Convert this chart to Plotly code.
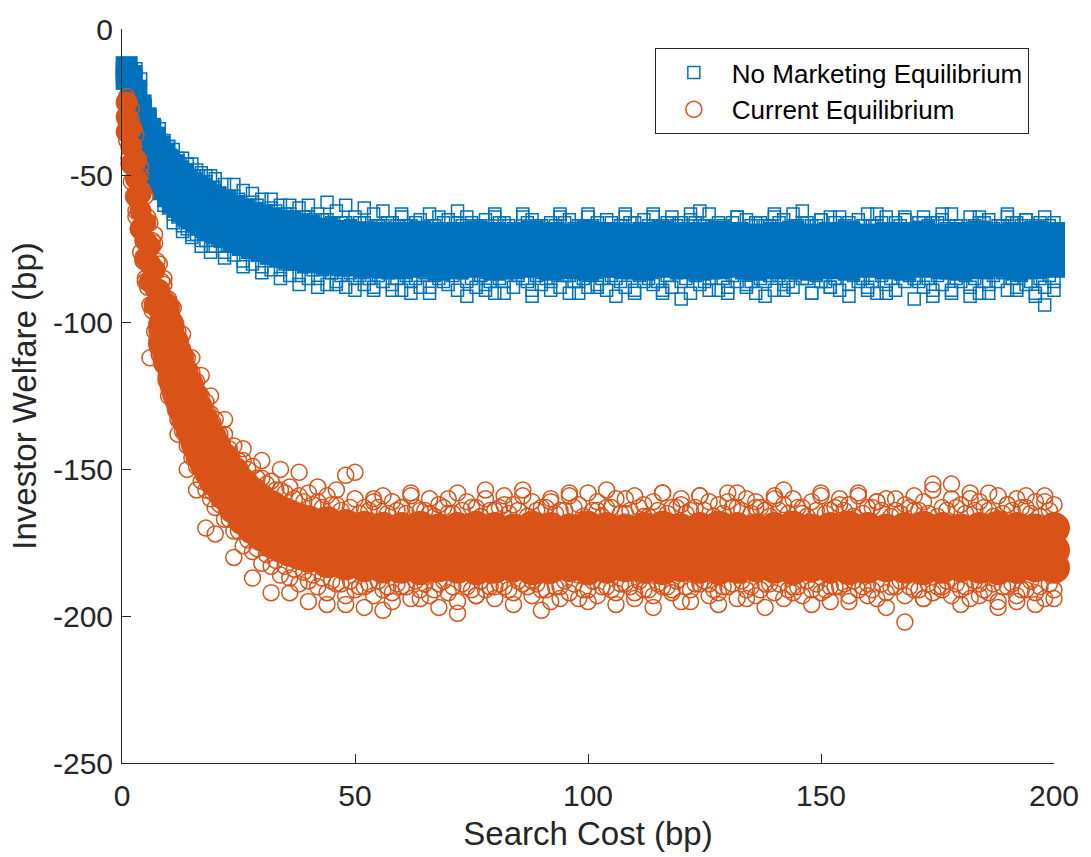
import plotly.graph_objects as go

# ---------------- data ----------------
# search-cost columns for the outer fringe points
cost_edge = [1, 2, 3, 4, 5, 6, 7, 8, 9, 10, 11, 12, 13, 14, 15, 16, 17, 18, 19, 20,
             22, 24, 26, 28, 30, 32, 34, 36, 38, 40,
             42, 44, 46, 48, 50, 52, 54, 56, 58, 60,
             62, 64, 66, 68, 70, 72, 74, 76, 78, 80,
             82, 84, 86, 88, 90, 92, 94, 96, 98, 100,
             102, 104, 106, 108, 110, 112, 114, 116, 118, 120,
             122, 124, 126, 128, 130, 132, 134, 136, 138, 140,
             142, 144, 146, 148, 150, 152, 154, 156, 158, 160,
             162, 164, 166, 168, 170, 172, 174, 176, 178, 180,
             182, 184, 186, 188, 190, 192, 194, 196, 198, 200]

# search-cost columns for the inner fringe points
cost_edge2 = [1.5, 2.5, 3.5, 4.5, 5.5, 6.5, 7.5, 8.5, 9.5, 10.5, 11.5, 12.5, 13.5, 14.5, 15.5, 16.5, 17.5, 18.5, 19.5,
              21, 23, 25, 27, 29, 31, 33, 35, 37, 39,
              41, 43, 45, 47, 49, 51, 53, 55, 57, 59,
              61, 63, 65, 67, 69, 71, 73, 75, 77, 79,
              81, 83, 85, 87, 89, 91, 93, 95, 97, 99,
              101, 103, 105, 107, 109, 111, 113, 115, 117, 119,
              121, 123, 125, 127, 129, 131, 133, 135, 137, 139,
              141, 143, 145, 147, 149, 151, 153, 155, 157, 159,
              161, 163, 165, 167, 169, 171, 173, 175, 177, 179,
              181, 183, 185, 187, 189, 191, 193, 195, 197, 199]

# search-cost columns for the dense core points
cost_core = [1, 2, 3, 4, 5, 6, 7, 8, 9, 10, 11, 12, 13, 14, 15, 16, 17, 18, 19, 20,
             22, 24, 26, 28, 30, 32, 34, 36, 38, 40,
             44, 48, 52, 56,
             60, 64, 68, 72, 76, 80, 84, 88, 92, 96,
             100, 104, 108, 112, 116, 120, 124, 128, 132, 136,
             140, 144, 148, 152, 156, 160, 164, 168, 172, 176,
             180, 184, 188, 192, 196, 200]

# ---- No Marketing Equilibrium (blue squares) ----
blue_edge_hi = [-12.5, -13.5, -16, -21, -26, -29, -33, -34, -38, -40, -41, -45, -44, -48, -46, -50, -49, -52, -50, -54,
                -53, -57, -55, -59, -58, -61, -60, -63, -61, -64,
                -63, -65, -62, -66, -64, -66, -63, -67, -66, -64,
                -67, -65, -63, -68, -65, -66, -64, -67, -65, -63,
                -66, -68, -64, -65, -67, -66, -64, -65, -67, -63,
                -66, -65, -68, -64, -66, -65, -63, -67, -64, -66,
                -65, -67, -63, -66, -68, -64, -65, -66, -67, -64,
                -65, -63, -66, -67, -65, -64, -68, -66, -65, -63,
                -67, -64, -66, -65, -68, -64, -66, -65, -63, -67,
                -64, -66, -65, -67, -64, -66, -65, -67, -64, -66]
blue_edge_lo = [-18, -27, -34, -40, -45, -49, -52, -56, -58, -61, -63, -64, -67, -68, -70, -70, -72, -72, -74, -74,
                -76, -77, -79, -80, -81, -82, -82, -84, -84, -85,
                -85, -87, -86, -88, -85, -87, -89, -86, -87, -89,
                -86, -88, -90, -85, -87, -89, -86, -88, -87, -90,
                -86, -88, -85, -89, -87, -86, -88, -90, -86, -88,
                -87, -89, -85, -88, -90, -86, -87, -89, -88, -86,
                -90, -87, -85, -89, -88, -86, -87, -90, -86, -89,
                -87, -88, -85, -90, -86, -88, -89, -87, -86, -88,
                -90, -87, -89, -86, -85, -88, -91, -87, -89, -86,
                -88, -90, -87, -86, -89, -88, -87, -90, -88, -89]
blue_edge_ex = [-13, -16, -13.5, -17, -45, -30, -54, -36, -60, -40, -66, -44, -69, -46, -71, -48, -74, -50, -76, -51,
                -78, -53, -81, -56, -83, -58, -85, -60, -87, -60,
                -88, -59, -87, -60, -89, -61, -88, -62, -89, -63,
                -90, -70, -88, -64, -82, -62, -91, -72, -89, -64,
                -90, -80, -63, -91, -68, -89, -63, -84, -90, -64,
                -88, -71, -91, -63, -89, -81, -64, -90, -66, -92,
                -63, -62, -89, -74, -90, -64, -88, -69, -91, -63,
                -89, -83, -62, -90, -65, -88, -64, -91, -73, -89,
                -63, -90, -79, -64, -92, -66, -89, -63, -90, -71,
                -91, -64, -90, -82, -63, -89, -65, -91, -94, -86]
blue_inner_hi = [-12.5, -16, -21, -26, -30, -33, -36, -39, -41, -43, -45, -47, -48, -50, -50, -52, -52, -54, -54,
                 -56, -57, -58, -60, -60, -62, -62, -63, -64, -64,
                 -65, -65, -66, -66, -67, -66, -68, -67, -66, -67,
                 -67, -66, -68, -67, -66, -68, -67, -66, -67, -68,
                 -66, -67, -68, -66, -67, -68, -67, -66, -68, -67,
                 -67, -68, -66, -67, -66, -68, -67, -68, -66, -67,
                 -68, -66, -67, -68, -67, -66, -68, -67, -66, -67,
                 -66, -68, -67, -66, -67, -68, -66, -67, -68, -67,
                 -67, -66, -68, -67, -68, -66, -67, -66, -68, -67,
                 -68, -67, -66, -68, -67, -66, -67, -68, -66, -67]
blue_inner_lo = [-23, -31, -37, -42, -46, -50, -53, -55, -58, -60, -62, -63, -65, -66, -67, -68, -69, -70, -71,
                 -72, -74, -75, -76, -77, -78, -79, -80, -80, -81,
                 -82, -82, -83, -84, -83, -84, -85, -84, -83, -85,
                 -84, -85, -83, -84, -86, -84, -83, -85, -84, -86,
                 -85, -83, -84, -86, -84, -85, -83, -84, -86, -85,
                 -83, -85, -84, -86, -83, -84, -85, -86, -84, -83,
                 -85, -84, -86, -83, -85, -84, -83, -86, -85, -84,
                 -84, -86, -83, -85, -84, -86, -85, -83, -84, -85,
                 -86, -84, -85, -83, -84, -86, -85, -84, -83, -85,
                 -84, -85, -86, -84, -83, -85, -84, -86, -85, -84]
blue_core_hi = [-13, -16, -21, -26, -30.5, -34, -37, -40, -42.5, -45, -47, -48.5, -50, -51.3, -52.5, -53.5, -54.5, -55.5, -56.5, -57.3,
                -58.8, -60.2, -61.5, -62.6, -63.6, -64.5, -65.3, -66, -66.6, -67.1,
                -68, -68.8, -69.2, -69.4,
                -69.5, -69, -70, -69.5, -69, -69.5, -70, -69, -69.5, -70,
                -69, -69.5, -70, -69.5, -69, -70, -69.5, -69, -69.5, -70,
                -69.5, -69, -70, -69.5, -69, -70, -69.5, -69.5, -69, -70,
                -69.5, -69, -70, -69.5, -69, -69.5]
blue_core_mid = [-15, -21, -27, -32, -36.5, -40, -43, -46, -48.5, -51, -53, -54.5, -56, -57.3, -58.5, -59.5, -60.5, -61.5, -62.5, -63.3,
                 -64.8, -66.2, -67.5, -68.6, -69.6, -70.5, -71.3, -72, -72.6, -73.1,
                 -74, -74.6, -75.1, -75.4,
                 -75.5, -76, -75, -75.5, -76, -75.5, -75, -76, -75.5, -75,
                 -76, -75.5, -75, -76, -75.5, -75, -76, -75.5, -76, -75,
                 -75.5, -76, -75, -75.5, -76, -75.5, -75, -76, -75.5, -76,
                 -75, -75.5, -76, -75, -75.5, -76]
blue_core_lo = [-17, -26, -33, -38, -42.5, -46, -49, -52, -54.5, -57, -59, -60.5, -62, -63.3, -64.5, -65.5, -66.5, -67.5, -68.5, -69.3,
                -70.8, -72.2, -73.5, -74.6, -75.6, -76.5, -77.3, -78, -78.6, -79.1,
                -80, -80.6, -81, -81.3,
                -81.5, -81, -82, -81.5, -81, -82, -81.5, -81, -82, -81.5,
                -82, -81, -81.5, -82, -81, -81.5, -82, -81.5, -81, -82,
                -81.5, -81, -82, -81.5, -82, -81, -81.5, -82, -81, -81.5,
                -82, -81.5, -81, -82, -81.5, -81]

# ---- Current Equilibrium (orange circles) ----
orange_edge_hi = [-23, -27, -36, -47, -57, -66, -73, -80, -87, -92, -99, -103, -109, -112, -117, -120, -125, -127, -131, -133,
                  -138, -142, -147, -149, -153, -154, -157, -156, -159, -158,
                  -161, -159, -162, -152, -160, -163, -161, -159, -161, -163,
                  -159, -164, -160, -162, -165, -158, -161, -163, -160, -164,
                  -159, -162, -157, -161, -163, -160, -164, -159, -162, -158,
                  -161, -163, -160, -165, -159, -162, -161, -158, -163, -160,
                  -164, -159, -161, -162, -158, -163, -160, -161, -164, -159,
                  -162, -160, -163, -161, -158, -164, -160, -162, -159, -163,
                  -161, -160, -164, -162, -159, -161, -155, -163, -160, -162,
                  -158, -161, -164, -159, -162, -160, -163, -161, -159, -162]
orange_edge_lo = [-38, -52, -64, -76, -86, -94, -103, -110, -115, -122, -127, -133, -137, -142, -146, -149, -154, -157, -160, -163,
                  -167, -171, -176, -178, -182, -183, -186, -187, -189, -188,
                  -190, -192, -189, -193, -191, -190, -193, -191, -192, -190,
                  -194, -191, -193, -189, -192, -195, -190, -193, -191, -194,
                  -190, -192, -189, -193, -191, -195, -190, -192, -194, -191,
                  -193, -190, -192, -189, -194, -191, -193, -190, -192, -195,
                  -191, -189, -193, -192, -190, -194, -191, -193, -189, -192,
                  -194, -190, -193, -191, -192, -195, -190, -193, -191, -189,
                  -194, -192, -190, -193, -191, -194, -192, -190, -193, -191,
                  -194, -189, -192, -195, -190, -193, -191, -192, -194, -191]
orange_edge_ex = [-33, -31, -62, -50, -85, -112, -70, -111, -85, -125, -95, -138, -104, -150, -112, -157, -118, -170, -125, -172,
                  -133, -180, -143, -187, -147, -192, -150, -192, -151, -195,
                  -156, -196, -157, -196, -151, -197, -160, -198, -195, -163,
                  -158, -194, -165, -197, -160, -199, -168, -193, -157, -190,
                  -162, -196, -159, -188, -198, -161, -194, -158, -186, -195,
                  -164, -157, -196, -160, -192, -166, -197, -158, -191, -162,
                  -195, -159, -189, -196, -161, -158, -194, -163, -197, -160,
                  -157, -192, -165, -196, -159, -190, -162, -195, -158, -193,
                  -161, -197, -160, -202, -164, -194, -157, -191, -155, -196,
                  -160, -193, -158, -197, -162, -195, -159, -196, -161, -194]
orange_inner_hi = [-25, -34, -44, -55, -64, -72, -79, -86, -92, -97, -103, -108, -112, -117, -120, -124, -128, -131, -134,
                   -138, -143, -147, -150, -153, -155, -157, -158, -160, -161,
                   -162, -163, -162, -164, -163, -165, -164, -163, -165, -164,
                   -165, -163, -164, -166, -163, -165, -164, -163, -166, -164,
                   -163, -165, -164, -166, -164, -163, -165, -164, -163, -166,
                   -164, -166, -163, -165, -164, -163, -166, -164, -165, -163,
                   -165, -163, -164, -166, -165, -163, -164, -165, -163, -166,
                   -164, -165, -163, -166, -164, -165, -163, -164, -166, -165,
                   -163, -164, -166, -165, -163, -164, -165, -166, -164, -163,
                   -165, -164, -163, -166, -165, -164, -163, -165, -166, -164]
orange_inner_lo = [-44, -57, -68, -79, -88, -96, -103, -110, -116, -122, -127, -132, -137, -141, -145, -149, -152, -155, -158,
                   -162, -167, -171, -174, -177, -179, -181, -183, -184, -185,
                   -186, -187, -188, -189, -188, -190, -189, -188, -190, -189,
                   -190, -188, -189, -191, -188, -190, -189, -191, -188, -190,
                   -189, -191, -188, -190, -189, -191, -190, -188, -189, -191,
                   -188, -190, -191, -189, -190, -188, -191, -189, -190, -188,
                   -190, -189, -188, -191, -190, -189, -188, -190, -191, -189,
                   -189, -191, -190, -188, -189, -191, -190, -189, -188, -190,
                   -191, -189, -190, -188, -190, -191, -189, -190, -188, -189,
                   -190, -188, -191, -189, -190, -189, -191, -188, -190, -189]
orange_core_hi = [-25, -34, -45, -56, -66, -74, -82, -89, -95, -101, -107, -112, -117, -121, -125, -129, -133, -136, -139, -142,
                  -146.5, -151, -155, -158, -160.5, -162.5, -164.3, -165.7, -166.8, -167.7,
                  -168, -168.9, -169.5, -169.9,
                  -170, -169.5, -170.5, -170, -169.5, -170, -170.5, -169.5, -170, -170.5,
                  -169.5, -170, -170.5, -170, -169.5, -170.5, -170, -169.5, -170, -170.5,
                  -170, -169.5, -170.5, -170, -169.5, -170, -170.5, -170, -169.5, -170,
                  -170.5, -170, -169.5, -170, -170.5, -170]
orange_core_mid = [-30, -40, -51, -62, -72, -80, -88, -95, -101, -107, -113, -118, -123, -127, -131, -135, -139, -142, -145, -148,
                   -152.5, -157, -161, -164, -166.5, -168.5, -170.3, -171.7, -172.8, -173.7,
                   -175, -175.9, -176.5, -176.9,
                   -177, -176.5, -177.5, -177, -176.5, -177, -177.5, -177, -176.5, -177,
                   -177.5, -177, -176.5, -177, -177.5, -177, -176.5, -177, -177.5, -177,
                   -176.5, -177, -177.5, -177, -176.5, -177, -177, -177.5, -176.5, -177,
                   -177, -177.5, -176.5, -177, -177, -177.5]
orange_core_lo = [-35, -46, -57, -68, -78, -86, -94, -101, -107, -113, -119, -124, -129, -133, -137, -141, -145, -148, -151, -154,
                  -158.5, -163, -167, -170, -172.5, -174.5, -176.3, -177.7, -178.8, -179.7,
                  -181.5, -182.4, -183, -183.4,
                  -183.5, -184, -183, -183.5, -184, -183.5, -183, -184, -183.5, -183,
                  -184, -183.5, -183, -183.5, -184, -183, -183.5, -184, -183.5, -183,
                  -183.5, -184, -183, -183.5, -184, -183.5, -183, -183.5, -184, -183.5,
                  -183, -183.5, -184, -183.5, -183, -183.5]

x_ticks = [0, 50, 100, 150, 200]
y_ticks = [-250, -200, -150, -100, -50, 0]

# ---------------- sanity check ----------------
for nm, arr, ref in [("blue_edge_hi", blue_edge_hi, cost_edge), ("blue_edge_lo", blue_edge_lo, cost_edge),
                     ("blue_edge_ex", blue_edge_ex, cost_edge), ("orange_edge_hi", orange_edge_hi, cost_edge),
                     ("orange_edge_lo", orange_edge_lo, cost_edge), ("orange_edge_ex", orange_edge_ex, cost_edge),
                     ("blue_inner_hi", blue_inner_hi, cost_edge2), ("blue_inner_lo", blue_inner_lo, cost_edge2),
                     ("orange_inner_hi", orange_inner_hi, cost_edge2), ("orange_inner_lo", orange_inner_lo, cost_edge2),
                     ("blue_core_hi", blue_core_hi, cost_core), ("blue_core_mid", blue_core_mid, cost_core),
                     ("blue_core_lo", blue_core_lo, cost_core), ("orange_core_hi", orange_core_hi, cost_core),
                     ("orange_core_mid", orange_core_mid, cost_core), ("orange_core_lo", orange_core_lo, cost_core)]:
    if len(arr) != len(ref):
        raise ValueError(f"{nm}: {len(arr)} values vs {len(ref)} columns")

BLUE = "#0072BD"
ORANGE = "#D95319"
AX = "#262626"
FONT = "Liberation Sans, Arial, Helvetica, sans-serif"

core_x = cost_core * 3
orange_core_size = [22 if c <= 8 else 32 for c in core_x]

fig = go.Figure()

# blue dense core
fig.add_trace(go.Scatter(
    x=core_x, y=blue_core_hi + blue_core_mid + blue_core_lo,
    mode="markers", showlegend=False, hoverinfo="skip", cliponaxis=False,
    marker=dict(symbol="square", size=22, color=BLUE, opacity=1, line=dict(width=0))))
# blue fringe
fig.add_trace(go.Scatter(
    x=cost_edge2 * 2 + cost_edge * 3,
    y=blue_inner_hi + blue_inner_lo + blue_edge_hi + blue_edge_lo + blue_edge_ex,
    mode="markers", name="No Marketing Equilibrium", cliponaxis=False,
    marker=dict(symbol="square-open", size=12, color=BLUE, opacity=1, line=dict(width=1.5, color=BLUE))))
# orange dense core
fig.add_trace(go.Scatter(
    x=core_x, y=orange_core_hi + orange_core_mid + orange_core_lo,
    mode="markers", showlegend=False, hoverinfo="skip", cliponaxis=False,
    marker=dict(symbol="circle", size=orange_core_size, color=ORANGE, opacity=1, line=dict(width=0))))
# orange fringe
fig.add_trace(go.Scatter(
    x=cost_edge2 * 2 + cost_edge * 3,
    y=orange_inner_hi + orange_inner_lo + orange_edge_hi + orange_edge_lo + orange_edge_ex,
    mode="markers", name="Current Equilibrium", cliponaxis=False,
    marker=dict(symbol="circle-open", size=16, color=ORANGE, opacity=1, line=dict(width=1.5, color=ORANGE))))

axis_common = dict(
    showline=True, linecolor=AX, linewidth=1, mirror=False,
    showgrid=False, zeroline=False,
    ticks="inside", ticklen=9, tickwidth=1, tickcolor=AX,
    tickfont=dict(family=FONT, size=30, color=AX),
    title_font=dict(family=FONT, size=33, color=AX),
)

fig.update_layout(
    width=1091, height=857,
    margin=dict(l=122, r=29, t=22, b=94),
    paper_bgcolor="white", plot_bgcolor="white",
    font=dict(family=FONT, color=AX),
    xaxis=dict(range=[0, 200], tickvals=x_ticks, ticktext=[str(v) for v in x_ticks],
               ticklabelstandoff=6,
               title=dict(text="Search Cost (bp)", standoff=10), **axis_common),
    yaxis=dict(range=[-250, 0], tickvals=y_ticks, ticktext=[str(v) for v in y_ticks],
               ticklabelstandoff=2,
               title=dict(text="Investor Welfare (bp)", standoff=6), **axis_common),
    legend=dict(x=0.973, xanchor="right", y=0.974, yanchor="top",
                bgcolor="white", bordercolor=AX, borderwidth=1, itemwidth=66,
                font=dict(family=FONT, size=26, color="black")),
)

fig.write_html("out.html")
